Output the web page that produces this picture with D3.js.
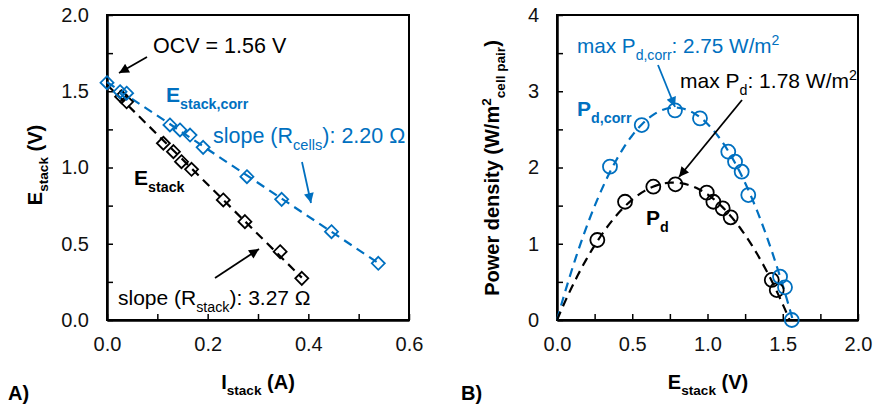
<!DOCTYPE html>
<html>
<head>
<meta charset="utf-8">
<script src="https://cdn.jsdelivr.net/npm/d3@7/dist/d3.min.js"></script>
<style>
  html, body { margin: 0; padding: 0; background: #fff; }
  svg { display: block; font-family: Arial, "Liberation Sans", sans-serif; }
</style>
</head>
<body>
<svg id="chart" width="878" height="409"></svg>
<script>
// ---- Panel A: stack voltage vs current ----
const iStack     = [0.029, 0.039, 0.112, 0.132, 0.148, 0.168, 0.231, 0.274, 0.344, 0.387];
const eStack     = [1.464, 1.431, 1.159, 1.104, 1.038, 0.988, 0.787, 0.645, 0.448, 0.273];
const iStackCorr = [0.000, 0.026, 0.039, 0.125, 0.145, 0.165, 0.191, 0.278, 0.347, 0.446, 0.539];
const eStackCorr = [1.556, 1.497, 1.487, 1.279, 1.246, 1.213, 1.132, 0.940, 0.791, 0.579, 0.372];
const slopeStack = 3.27;   // Ω
const slopeCells = 2.20;   // Ω
const ocv = 1.56;          // V

// ---- Panel B: power density vs stack voltage ----
const ePd     = [0.268, 0.452, 0.640, 0.787, 0.995, 1.039, 1.101, 1.154, 1.427, 1.460];
const pd      = [1.049, 1.551, 1.748, 1.780, 1.670, 1.551, 1.465, 1.347, 0.525, 0.393];
const ePdCorr = [0.352, 0.563, 0.784, 0.950, 1.138, 1.183, 1.227, 1.271, 1.482, 1.515, 1.560];
const pdCorr  = [2.011, 2.557, 2.750, 2.645, 2.207, 2.076, 1.945, 1.639, 0.568, 0.429, 0.000];
const maxPd = 1.78, maxPdCorr = 2.75;

// tick values
const aXTicks = [0, 0.2, 0.4, 0.6], aXMinor = [0.1, 0.3, 0.5];
const aYTicks = [0, 0.5, 1.0, 1.5, 2.0], aYMinor = [0.25, 0.75, 1.25, 1.75];
const bXTicks = [0, 0.5, 1.0, 1.5, 2.0], bXMinor = [0.25, 0.75, 1.25, 1.75];
const bYTicks = [0, 1, 2, 3, 4], bYMinor = [0.5, 1.5, 2.5, 3.5];

const BLUE = "#0070C0", BLACK = "#000";
const svg = d3.select("#chart");

// arrowheads
const defs = svg.append("defs");
[["arrBlack", BLACK], ["arrBlue", BLUE]].forEach(([id, c]) => {
  defs.append("marker").attr("id", id).attr("viewBox", "0 0 10 10")
    .attr("refX", 10).attr("refY", 5).attr("markerWidth", 6.5).attr("markerHeight", 5.5)
    .attr("markerUnits", "strokeWidth").attr("orient", "auto")
    .append("path").attr("d", "M0,0 L10,5 L0,10 Z").attr("fill", c);
});

// text with sub/superscript runs
function richText(sel, x, y, parts, o) {
  const size = o.size || 20;
  const t = sel.append("text").attr("x", x).attr("y", y)
    .attr("font-size", size).attr("font-weight", o.weight || "normal")
    .attr("fill", o.fill || BLACK).attr("text-anchor", o.anchor || "start");
  if (o.rotate) t.attr("transform", `rotate(${o.rotate},${x},${y})`);
  let shift = 0;
  parts.forEach(p => {
    const target = p.sub ? size * 0.32 : p.sup ? -size * 0.38 : 0;
    t.append("tspan").attr("dy", target - shift)
      .attr("font-size", (p.sub || p.sup) ? size * 0.68 : size).text(p.t);
    shift = target;
  });
  return t;
}

function panel(x, y, xTicks, xMinor, yTicks, yMinor, xFmt, yFmt) {
  const g = svg.append("g");
  const [x0, x1] = x.range(), [y0, y1] = y.range();
  // frame
  g.append("rect").attr("x", x0).attr("y", y1).attr("width", x1 - x0).attr("height", y0 - y1)
    .attr("fill", "none").attr("stroke", BLACK).attr("stroke-width", 2);
  const xa = g.append("g").attr("transform", `translate(0,${y0})`)
    .call(d3.axisBottom(x).tickValues(xTicks.concat(xMinor)).tickSizeInner(-6).tickSizeOuter(0)
      .tickPadding(17).tickFormat(d => xTicks.includes(d) ? xFmt(d) : ""));
  const ya = g.append("g").attr("transform", `translate(${x0},0)`)
    .call(d3.axisLeft(y).tickValues(yTicks.concat(yMinor)).tickSizeInner(-6).tickSizeOuter(0)
      .tickPadding(18).tickFormat(d => yTicks.includes(d) ? yFmt(d) : ""));
  [xa, ya].forEach(a => {
    a.select(".domain").attr("stroke-width", 2.5);
    a.selectAll(".tick line").attr("stroke-width", 1.5);
    a.selectAll("text").attr("font-size", 20).attr("font-family", "Arial, 'Liberation Sans', sans-serif").attr("fill", "#111");
  });
  return g;
}

function diamonds(g, xs, ys, x, y, color) {
  g.append("g").selectAll("path").data(xs.map((d, i) => [d, ys[i]])).join("path")
    .attr("d", d => {
      const cx = x(d[0]), cy = y(d[1]), r = 6.5;
      return `M${cx},${cy - r}L${cx + r},${cy}L${cx},${cy + r}L${cx - r},${cy}Z`;
    })
    .attr("fill", "none").attr("stroke", color).attr("stroke-width", 1.8);
}
function circles(g, xs, ys, x, y, color) {
  g.append("g").selectAll("circle").data(xs.map((d, i) => [d, ys[i]])).join("circle")
    .attr("cx", d => x(d[0])).attr("cy", d => y(d[1])).attr("r", 7)
    .attr("fill", "none").attr("stroke", color).attr("stroke-width", 1.8);
}
function dashed(g, pts, x, y, color) {
  g.append("path").datum(pts)
    .attr("d", d3.line().x(d => x(d[0])).y(d => y(d[1])))
    .attr("fill", "none").attr("stroke", color).attr("stroke-width", 2.2)
    .attr("stroke-dasharray", "9,6");
}
function arrow(g, x1, y1, x2, y2, color, id) {
  g.append("line").attr("x1", x1).attr("y1", y1).attr("x2", x2).attr("y2", y2)
    .attr("stroke", color).attr("stroke-width", 1.8).attr("marker-end", `url(#${id})`);
}

// ================= Panel A =================
const xA = d3.scaleLinear().domain([0, 0.6]).range([107, 409]);
const yA = d3.scaleLinear().domain([0, 2]).range([320, 15]);
const gA = panel(xA, yA, aXTicks, aXMinor, aYTicks, aYMinor, d3.format(".1f"), d3.format(".1f"));

// linear fits with the stated slopes; intercept from the points
const icpt = (is, es, s) => d3.mean(is.map((v, i) => es[i] + s * v));
const bStack = icpt(iStack, eStack, slopeStack);
const bCorr = icpt(iStackCorr, eStackCorr, slopeCells);
dashed(gA, [[0, bStack], [d3.max(iStack), bStack - slopeStack * d3.max(iStack)]], xA, yA, BLACK);
dashed(gA, [[0, bCorr], [d3.max(iStackCorr), bCorr - slopeCells * d3.max(iStackCorr)]], xA, yA, BLUE);
diamonds(gA, iStack, eStack, xA, yA, BLACK);
diamonds(gA, iStackCorr, eStackCorr, xA, yA, BLUE);

richText(gA, 153, 53, [{ t: `OCV = ${ocv.toFixed(2)} V` }], { size: 21.5 });
arrow(gA, 147, 57, 119, 73, BLACK, "arrBlack");
richText(gA, 166, 102, [{ t: "E" }, { t: "stack,corr", sub: true }], { size: 21, weight: "bold", fill: BLUE });
richText(gA, 213, 143, [{ t: "slope (R" }, { t: "cells", sub: true }, { t: `): ${slopeCells.toFixed(2)} Ω` }], { size: 21.5, fill: BLUE });
arrow(gA, 302, 162, 311, 203, BLUE, "arrBlue");
richText(gA, 134, 185, [{ t: "E" }, { t: "stack", sub: true }], { size: 21, weight: "bold" });
richText(gA, 118, 305, [{ t: "slope (R" }, { t: "stack", sub: true }, { t: `): ${slopeStack.toFixed(2)} Ω` }], { size: 21 });
arrow(gA, 215, 278, 259, 249, BLACK, "arrBlack");

richText(svg, 258, 389, [{ t: "I" }, { t: "stack", sub: true }, { t: " (A)" }], { size: 20, weight: "bold", anchor: "middle" });
richText(svg, 42, 165, [{ t: "E" }, { t: "stack", sub: true }, { t: " (V)" }], { size: 20, weight: "bold", anchor: "middle", rotate: -90 });
richText(svg, 8, 400, [{ t: "A)" }], { size: 20, weight: "bold" });

// ================= Panel B =================
const xB = d3.scaleLinear().domain([0, 2]).range([557, 858]);
const yB = d3.scaleLinear().domain([0, 4]).range([320, 15]);
const gB = panel(xB, yB, bXTicks, bXMinor, bYTicks, bYMinor, d3.format(".1f"), d3.format("d"));

// quadratic trend through the origin: P = a·E + b·E²
function quadFit(es, ps) {
  const s = k => d3.sum(es, e => e ** k);
  const s2 = s(2), s3 = s(3), s4 = s(4);
  const t1 = d3.sum(es, (e, i) => ps[i] * e), t2 = d3.sum(es, (e, i) => ps[i] * e * e);
  const det = s2 * s4 - s3 * s3;
  return [(t1 * s4 - t2 * s3) / det, (s2 * t2 - s3 * t1) / det];
}
function trend(es, ps) {
  const [a, b] = quadFit(es, ps);
  const end = -a / b;
  return d3.range(0, 81).map(k => { const e = end * k / 80; return [e, Math.max(0, a * e + b * e * e)]; });
}
dashed(gB, trend(ePdCorr, pdCorr), xB, yB, BLUE);
dashed(gB, trend(ePd, pd), xB, yB, BLACK);
circles(gB, ePd, pd, xB, yB, BLACK);
circles(gB, ePdCorr, pdCorr, xB, yB, BLUE);

richText(gB, 577, 53, [{ t: "max P" }, { t: "d,corr", sub: true }, { t: `: ${maxPdCorr.toFixed(2)} W/m` }, { t: "2", sup: true }], { size: 20.7, fill: BLUE });
arrow(gB, 658, 65, 675, 107, BLUE, "arrBlue");
richText(gB, 680, 88, [{ t: "max P" }, { t: "d", sub: true }, { t: `: ${maxPd.toFixed(2)} W/m` }, { t: "2", sup: true }], { size: 21 });
arrow(gB, 742, 100, 679, 177, BLACK, "arrBlack");
richText(gB, 577, 116, [{ t: "P" }, { t: "d,corr", sub: true }], { size: 21, weight: "bold", fill: BLUE });
richText(gB, 646, 225, [{ t: "P" }, { t: "d", sub: true }], { size: 21, weight: "bold" });

richText(svg, 708, 389, [{ t: "E" }, { t: "stack", sub: true }, { t: " (V)" }], { size: 20, weight: "bold", anchor: "middle" });
richText(svg, 499, 168, [{ t: "Power density (W/m" }, { t: "2", sup: true }, { t: "cell pair", sub: true }, { t: ")" }], { size: 20, weight: "bold", anchor: "middle", rotate: -90 });
richText(svg, 461, 400, [{ t: "B)" }], { size: 20, weight: "bold" });
</script>
</body>
</html>
